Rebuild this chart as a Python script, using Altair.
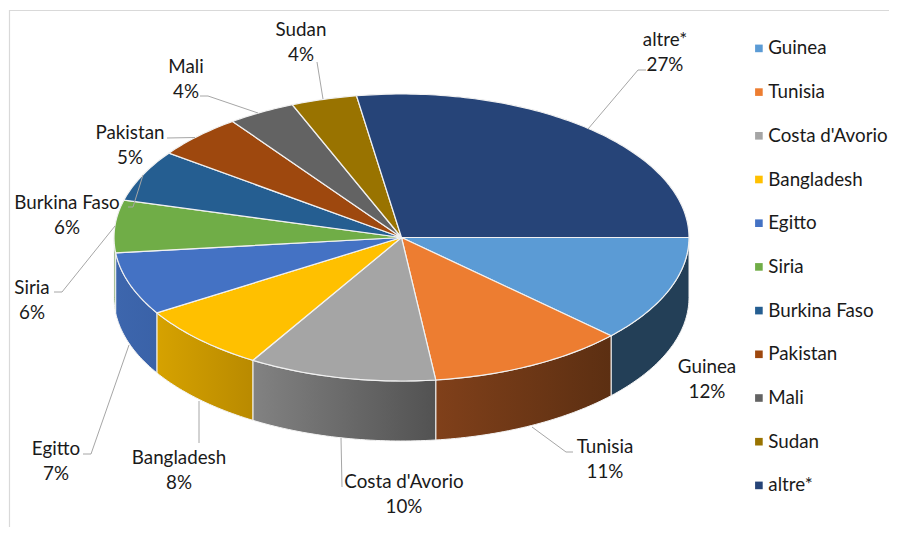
import math
import altair as alt

# ---- chart values -------------------------------------------------------
names = ["Guinea", "Tunisia", "Costa d'Avorio", "Bangladesh", "Egitto", "Siria",
         "Burkina Faso", "Pakistan", "Mali", "Sudan", "altre*"]
shares = [12.0, 11.1, 10.55, 7.55, 7.1, 5.9, 5.8, 5.0, 3.8, 3.7, 27.5]
shown_pct = [12, 11, 10, 8, 7, 6, 6, 5, 4, 4, 27]
colors = ["#5b9bd5", "#ed7d31", "#a5a5a5", "#ffc000", "#4472c4", "#70ad47",
          "#255e91", "#9e480e", "#636363", "#997300", "#264478"]
wall_left = ["#233f57", "#80401a", "#828282", "#d6a200", "#3d66ad", "#5d9040",
             "#255e91", "#9e480e", "#636363", "#997300", "#264478"]
wall_right = ["#233f57", "#5c2f12", "#525252", "#b98a00", "#3a62a8", "#5d9040",
              "#255e91", "#9e480e", "#636363", "#997300", "#264478"]

# ---- layout (picture pixels) --------------------------------------------
CX, CY, RX, RY, DEPTH = 401.5, 237.5, 287.5, 143.5, 60
label_x = [707, 605, 404, 179, 56, 32, 67, 130, 186, 301, 665]
label_y = [367, 447, 482, 458, 449, 288, 203, 133, 66.5, 30, 40]
leaders = {
    "Tunisia": [(573, 452), (566, 452), (532, 427)],
    "Costa d'Avorio": [(342, 487), (341, 438)],
    "Bangladesh": [(199, 443), (199, 401)],
    "Egitto": [(83, 454), (91, 454), (129, 345)],
    "Siria": [(54, 292), (62, 292), (115, 226)],
    "Burkina Faso": [(128, 207), (133, 207), (143, 175)],
    "Pakistan": [(167, 138), (195, 137.5)],
    "Mali": [(200, 96), (208, 96), (258, 113)],
    "Sudan": [(317, 62), (323, 99)],
    "altre*": [(646, 70), (638, 70), (588, 129)],
}
FONT = "Lato"
FONT_SIZE = 18.8
TEXT = "#1a1a1a"


def rim(a, b, dy=0.0):
    n = max(2, int(abs(b - a)) + 1)
    pts = []
    for i in range(n + 1):
        t = math.radians(a + (b - a) * i / n)
        pts.append([CX + RX * math.cos(t), CY + RY * math.sin(t) + dy])
    return pts


def feature(name, ring):
    return {"type": "Feature", "properties": {"name": name},
            "geometry": {"type": "Polygon", "coordinates": [ring + [ring[0]]]}}


total = sum(shares)
edges = [0.0]
for s in shares:
    edges.append(edges[-1] + s / total * 360)

proj = dict(type="identity", scale=1, translate=[-8, -8])
xs = alt.Scale(domain=[8, 889], range=[0, 881])
ys = alt.Scale(domain=[8, 527], range=[0, 519])

# outer walls of the disc, visible on the front half only
walls = []
for i, name in enumerate(names):
    a, b = edges[i], min(edges[i + 1], 180.0)
    if a >= 180:
        continue
    ring = rim(a, b) + rim(b, a, DEPTH)
    grad = alt.Gradient(gradient="linear", x1=0, y1=0, x2=1, y2=0, stops=[
        alt.GradientStop(color=wall_left[i], offset=0),
        alt.GradientStop(color=wall_right[i], offset=1)])
    walls.append(
        alt.Chart(alt.Data(values=[feature(name, ring)]))
        .mark_geoshape(fill=grad, stroke="#f4f4f4", strokeWidth=1)
        .project(**proj)
    )

# top face of the disc
tops = [feature(name, [[CX, CY]] + rim(edges[i], edges[i + 1])) for i, name in enumerate(names)]
top = (
    alt.Chart(alt.Data(values=tops))
    .mark_geoshape(stroke="#f1f1f1", strokeWidth=1.2)
    .encode(fill=alt.Fill(
        "properties.name:N",
        scale=alt.Scale(domain=names, range=colors),
        sort=names,
        legend=alt.Legend(
            title=None, orient="none", legendX=741.5, legendY=31,
            symbolType="square", symbolSize=58, symbolStrokeWidth=0,
            labelFont=FONT, labelFontSize=FONT_SIZE, labelColor=TEXT,
            rowPadding=23.7, labelOffset=0, symbolLimit=20, labelLimit=200,
        ),
    ))
    .project(**proj)
)

# leader lines
leader_rows = []
for name, pts in leaders.items():
    for k, (x, y) in enumerate(pts):
        leader_rows.append({"name": name, "k": k, "x": x, "y": y})
lead = (
    alt.Chart(alt.Data(values=leader_rows))
    .mark_line(color="#a6a6a6", strokeWidth=1)
    .encode(x=alt.X("x:Q", scale=xs, axis=None), y=alt.Y("y:Q", scale=ys, axis=None),
            detail="name:N", order="k:Q")
)

# data labels
label_rows = [{"t": f"{n}\n{p}%", "x": x, "y": y}
              for n, p, x, y in zip(names, shown_pct, label_x, label_y)]
labels = (
    alt.Chart(alt.Data(values=label_rows))
    .mark_text(font=FONT, fontSize=FONT_SIZE, color=TEXT, lineBreak="\n",
               lineHeight=25, align="center", baseline="middle")
    .encode(x=alt.X("x:Q", scale=xs, axis=None), y=alt.Y("y:Q", scale=ys, axis=None),
            text="t:N")
)

# chart-area border (top and left edges)
frame_rows = [{"k": 0, "x": 889, "y": 10.5}, {"k": 1, "x": 9.5, "y": 10.5}, {"k": 2, "x": 9.5, "y": 527}]
frame = (
    alt.Chart(alt.Data(values=frame_rows))
    .mark_line(color="#d9d9d9", strokeWidth=1.2)
    .encode(x=alt.X("x:Q", scale=xs, axis=None), y=alt.Y("y:Q", scale=ys, axis=None), order="k:Q")
)

chart = (
    alt.layer(frame, *walls, top, lead, labels)
    .properties(width=881, height=519, padding=0, autosize=alt.AutoSizeParams(type="none"),
                background="white")
    .configure_view(stroke=None)
)
chart.save("out.html", embed_options={"renderer": "svg", "actions": False})
